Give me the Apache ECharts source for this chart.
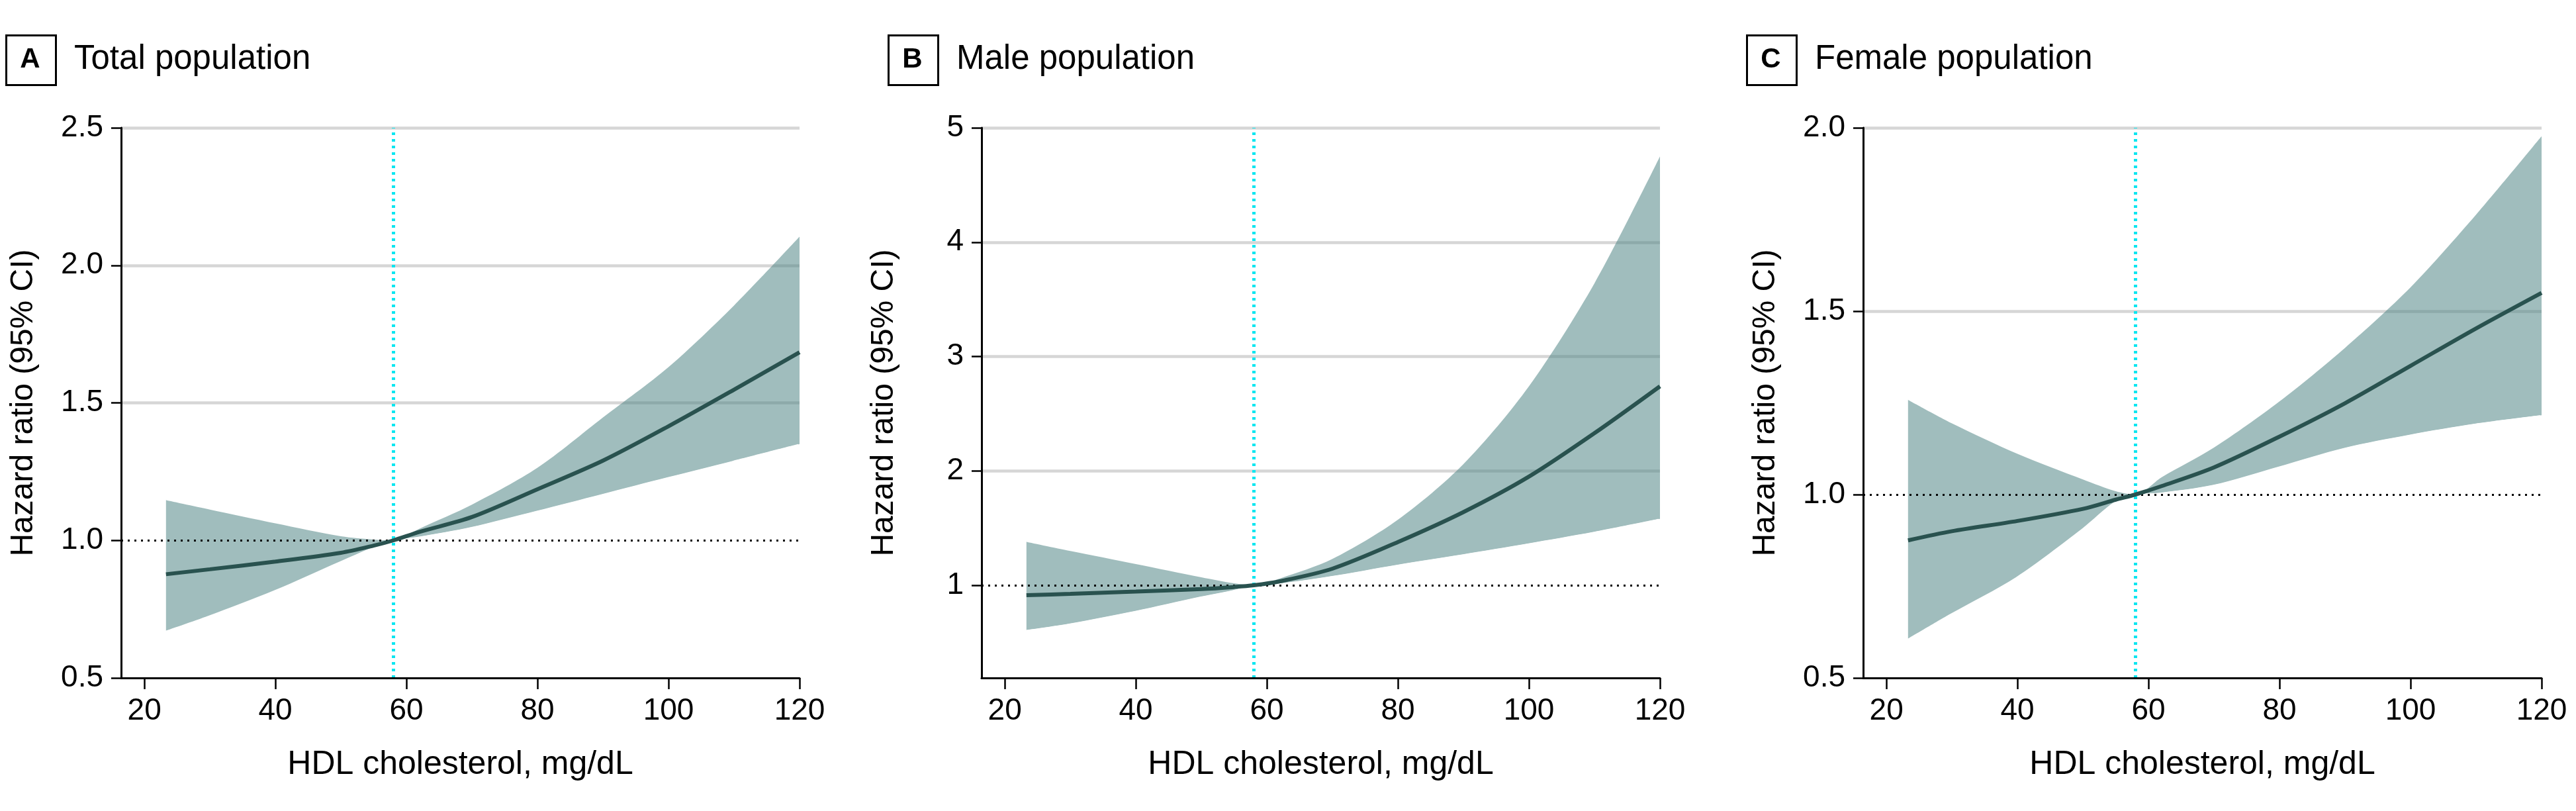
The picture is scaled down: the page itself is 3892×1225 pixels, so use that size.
<!DOCTYPE html>
<html><head><meta charset="utf-8">
<script src="https://cdn.jsdelivr.net/npm/echarts@6/dist/echarts.min.js"></script>
<style>html,body{margin:0;padding:0;background:#fff}#c{width:3892px;height:1225px}</style>
</head><body><div id="c"></div>
<script>
// ---- data ----
const hdl = [23.3, 30, 40, 50, 55, 58, 62, 70, 80, 90, 100, 110, 120];
const totalHR    = [0.877, 0.895, 0.923, 0.955, 0.981, 1.0, 1.031, 1.085, 1.186, 1.29, 1.415, 1.548, 1.684];
const totalUpper = [1.146, 1.112, 1.062, 1.015, 1.003, 1.0, 1.043, 1.13, 1.264, 1.447, 1.63, 1.854, 2.104];
const totalLower = [0.670, 0.726, 0.818, 0.923, 0.975, 1.0, 1.013, 1.048, 1.107, 1.168, 1.229, 1.289, 1.35];
const maleHR     = [0.913, 0.925, 0.945, 0.967, 0.985, 1.0, 1.035, 1.145, 1.378, 1.64, 1.95, 2.33, 2.74];
const maleUpper  = [1.38, 1.30, 1.186, 1.07, 1.017, 1.0, 1.06, 1.23, 1.573, 2.06, 2.74, 3.64, 4.75];
const maleLower  = [0.607, 0.664, 0.774, 0.90, 0.957, 1.0, 1.015, 1.08, 1.179, 1.27, 1.365, 1.466, 1.58];
const femaleHR    = [0.875, 0.90, 0.928, 0.961, 0.986, 1.0, 1.023, 1.074, 1.158, 1.249, 1.351, 1.453, 1.55];
const femaleUpper = [1.258, 1.194, 1.111, 1.041, 1.009, 1.0, 1.047, 1.128, 1.254, 1.40, 1.565, 1.763, 1.977];
const femaleLower = [0.605, 0.675, 0.775, 0.906, 0.98, 1.0, 1.005, 1.026, 1.076, 1.127, 1.163, 1.193, 1.216];
const xTicks = [20, 40, 60, 80, 100, 120];
const yTicksTotal = [0.5, 1.0, 1.5, 2.0, 2.5];
const yTicksMale = [1, 2, 3, 4, 5];
const yTicksFemale = [0.5, 1.0, 1.5, 2.0];
const refHDL = 58;
const refHR = 1;
const panelLetters = ['A', 'B', 'C'];
const panelTitles = ['Total population', 'Male population', 'Female population'];
const xName = 'HDL cholesterol, mg/dL';
const yName = 'Hazard ratio (95% CI)';

// ---- layout / style ----
const FONT = '"Liberation Sans", Arial, sans-serif';
const gridLeft = [183, 1483, 2815];
const boxLeft = [8, 1341, 2638];
const yRange = [[0.5, 2.5], [0.19, 5], [0.5, 2.0]];
const yDecimals = [1, 0, 1];
const panels = [
  {hr: totalHR, up: totalUpper, lo: totalLower, yt: yTicksTotal},
  {hr: maleHR, up: maleUpper, lo: maleLower, yt: yTicksMale},
  {hr: femaleHR, up: femaleUpper, lo: femaleLower, yt: yTicksFemale}
];
const GRIDC = '#d6d6d6', NONE = 'rgba(0,0,0,0)';
const SMOOTH = 0.3;

const grid = [], xAxis = [], yAxis = [], series = [], graphic = [];
panels.forEach((p, i) => {
  grid.push({left: gridLeft[i], top: 193, width: 1025, height: 831, containLabel: false, outerBoundsMode: 'none'});
  xAxis.push({
    type: 'value', gridIndex: i, min: 16.45, max: 120, z: 10,
    name: xName, nameLocation: 'middle', nameGap: 106,
    nameTextStyle: {fontFamily: FONT, fontSize: 50, color: '#000'},
    axisLine: {show: true, onZero: false, lineStyle: {color: '#000', width: 3}},
    axisTick: {show: true, length: 17, inside: false, customValues: xTicks, lineStyle: {color: '#000', width: 2.5}},
    axisLabel: {show: true, customValues: xTicks, margin: 27, fontFamily: FONT, fontSize: 46, color: '#000'},
    splitLine: {show: false}
  });
  yAxis.push({
    type: 'value', gridIndex: i, min: yRange[i][0], max: yRange[i][1], z: 0,
    name: yName, nameLocation: 'middle', nameGap: 123,
    nameTextStyle: {fontFamily: FONT, fontSize: 48, color: '#000'},
    axisLine: {show: true, onZero: false, lineStyle: {color: '#000', width: 3}},
    axisTick: {show: true, length: 15, customValues: p.yt, lineStyle: {color: '#000', width: 2.5}},
    axisLabel: {show: true, customValues: p.yt, margin: 27, fontFamily: FONT, fontSize: 46, color: '#000',
      formatter: v => Number(v).toFixed(yDecimals[i])},
    splitLine: {show: true, lineStyle: {width: 4.5, color: p.yt.map(v => (v <= refHR ? NONE : GRIDC))}}
  });
  // CI band: upper bound area (translucent) then lower bound area (white) on top of it
  series.push({
    type: 'line', xAxisIndex: i, yAxisIndex: i, silent: true, z: 2,
    data: hdl.map((x, k) => [x, p.up[k]]), symbol: 'none', smooth: SMOOTH,
    lineStyle: {width: 0, opacity: 0},
    areaStyle: {color: 'rgba(82,135,135,0.55)', opacity: 1, origin: 'start'}
  });
  series.push({
    type: 'line', xAxisIndex: i, yAxisIndex: i, silent: true, z: 3,
    data: hdl.map((x, k) => [x, p.lo[k]]), symbol: 'none', smooth: SMOOTH,
    lineStyle: {width: 0, opacity: 0},
    areaStyle: {color: '#ffffff', opacity: 1, origin: 'start',
      shadowColor: '#ffffff', shadowBlur: 0, shadowOffsetX: -2, shadowOffsetY: 0}
  });
  // reference lines
  series.push({
    type: 'line', xAxisIndex: i, yAxisIndex: i, silent: true, z: 5, data: [],
    markLine: {
      silent: true, symbol: ['none', 'none'], label: {show: false}, z: 5,
      data: [
        {xAxis: refHDL, lineStyle: {color: '#0ce6f0', type: [4, 6], width: 5}},
        {yAxis: refHR, lineStyle: {color: '#000', type: [3, 7], width: 3}}
      ]
    }
  });
  series.push({
    type: 'line', xAxisIndex: i, yAxisIndex: i, silent: true, z: 6,
    data: hdl.map((x, k) => [x, p.hr[k]]), symbol: 'none', smooth: SMOOTH,
    lineStyle: {color: '#29524f', width: 6}
  });
  graphic.push({type: 'rect', left: boxLeft[i], top: 52, shape: {width: 75, height: 75},
    style: {fill: '#fff', stroke: '#000', lineWidth: 3}});
  graphic.push({type: 'text', x: boxLeft[i] + 37.5, y: 90,
    style: {text: panelLetters[i], fontFamily: FONT, fontWeight: 'bold', fontSize: 42, fill: '#000', align: 'center', verticalAlign: 'middle'}});
  graphic.push({type: 'text', x: boxLeft[i] + 104, y: 90,
    style: {text: panelTitles[i], fontFamily: FONT, fontSize: 51, fill: '#000', align: 'left', verticalAlign: 'middle'}});
});

const chart = echarts.init(document.getElementById('c'), null, {renderer: 'canvas'});
chart.setOption({animation: false, backgroundColor: '#fff', grid, xAxis, yAxis, series, graphic});
</script></body></html>
